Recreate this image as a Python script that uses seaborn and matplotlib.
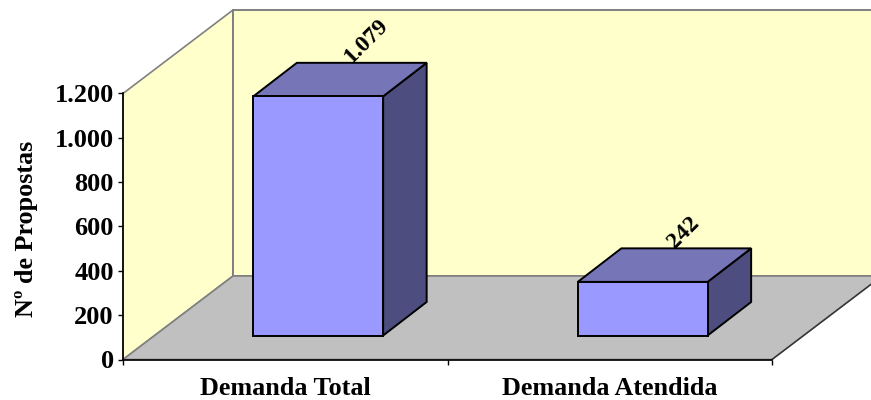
import seaborn as sns
import matplotlib.pyplot as plt
from matplotlib.patches import Polygon
from matplotlib.transforms import Affine2D

categories = ['Demanda Total', 'Demanda Atendida']
values = [1079, 242]
yticks = [0, 200, 400, 600, 800, 1000, 1200]

sns.set_style('white', {'text.color': 'black', 'xtick.color': 'black', 'ytick.color': 'black',
                        'axes.labelcolor': 'black'})
plt.rcParams['font.family'] = ['Liberation Serif', 'DejaVu Serif']
plt.rcParams['font.weight'] = 'bold'

W, H = 871, 400
fig = plt.figure(figsize=(W / 100, H / 100), dpi=100)
ax = fig.add_axes([123 / W, (H - 359.5) / H, 649 / W, 266 / H])
ax.patch.set_visible(False)

# depth of the fake 3d box, in pixels
dx, dy = 110, 83.5
bar_dx, bar_dy = 33, 24
box_dx, box_dy = 43.5, 33.5


def face(points, trans, **kw):
    ax.add_patch(Polygon(points, closed=True, transform=trans, clip_on=False, **kw))


# walls and floor, from axes corners
p00, p01, p10, p11 = ax.transAxes.transform([(0, 0), (0, 1), (1, 0), (1, 1)])
ident = Affine2D()
wall = '#FFFFCC'
face([p00, p01, p01 + (dx, dy), p00 + (dx, dy)], ident, fc=wall, ec='#808080', lw=1.2, zorder=0.5)
face([p00 + (dx, dy), p01 + (dx, dy), p11 + (dx, dy), p10 + (dx, dy)], ident, fc=wall, ec='#808080', lw=1.4, zorder=0.6)
face([p00, p10, p10 + (dx, dy), p00 + (dx, dy)], ident, fc='#C0C0C0', ec='#808080', lw=1.2, zorder=0.7)
ax.plot([1, 1 + dx / 649], [0, dy / 266], color='#333333', lw=1, transform=ax.transAxes, clip_on=False, zorder=0.8)

sns.barplot(x=categories, y=values, color='#9999FF', saturation=1, width=0.4,
            edgecolor='black', linewidth=1.4, ax=ax, zorder=3)
ax.set_xlim(-0.5, 1.5)
ax.set_ylim(0, 1200)
ax.set_yticks(yticks)
ax.set_yticklabels([f'{t:,}'.replace(',', '.') for t in yticks], fontsize=19, fontweight='bold')

# move bars back onto the floor and add side + top faces
move = ax.transData + Affine2D().translate(bar_dx, bar_dy)
for bar, val in zip(ax.containers[0], values):
    x0, x1 = bar.get_x(), bar.get_x() + bar.get_width()
    bar.set_transform(move)
    bar.set_clip_on(False)
    bl, br, tl, tr = move.transform([(x0, 0), (x1, 0), (x0, val), (x1, val)])
    d = (box_dx, box_dy)
    face([br, tr, tr + d, br + d], ident, fc='#4D4D80', ec='black', lw=1.4, zorder=2.5)
    face([tl, tr, tr + d, tl + d], ident, fc='#7575B8', ec='black', lw=1.4, zorder=2.5)
    mid = (tl + tr) / 2 + d
    label = f'{val:,}'.replace(',', '.')
    ax.annotate(label, xy=mid, xycoords='figure pixels', xytext=(-15, 3), textcoords='offset pixels',
                rotation=45, rotation_mode='anchor', ha='left', va='center',
                fontsize=17, fontweight='bold', annotation_clip=False, zorder=4)

sns.despine(ax=ax)
for s in ['left', 'bottom']:
    ax.spines[s].set_color('black')
    ax.spines[s].set_linewidth(1.2)
    ax.spines[s].set_zorder(1)

ax.set_xticks([-0.5, 0.5, 1.5], minor=True)
ax.tick_params(axis='x', which='major', length=0, pad=12.5, labelsize=18.8)
ax.tick_params(axis='x', which='minor', bottom=True, length=3.6, width=1, color='black')
ax.tick_params(axis='y', left=True, length=3.6, width=1, color='black', pad=3)
for t in ax.get_xticklabels():
    t.set_fontweight('bold')
ax.set_ylabel('Nº de Propostas', fontsize=18.8, fontweight='bold', labelpad=12, y=0.49)

fig.savefig('out.png', dpi=100)
